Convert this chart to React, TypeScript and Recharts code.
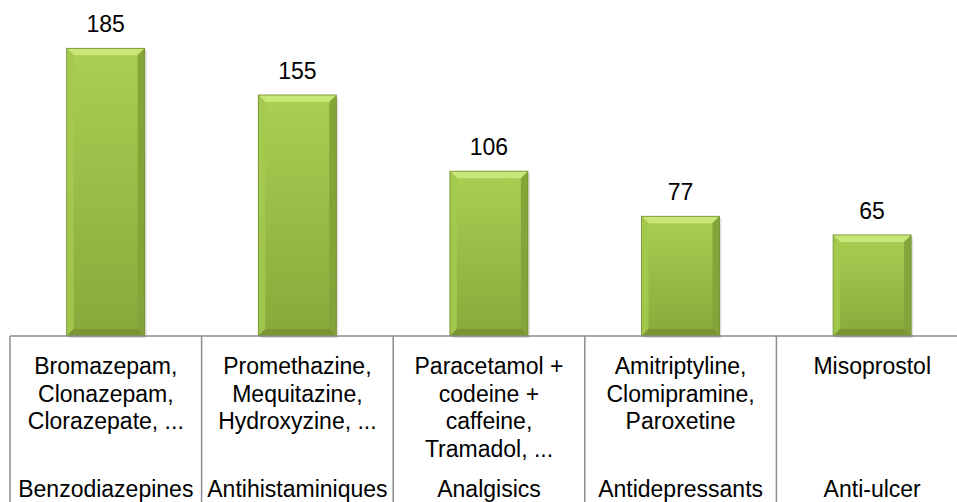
import React from 'react';
import { BarChart, Bar, XAxis, YAxis, LabelList } from 'recharts';

const classes = ['Benzodiazepines', 'Antihistaminiques', 'Analgisics', 'Antidepressants', 'Anti-ulcer'];
const drugs = [
  ['Bromazepam,', 'Clonazepam,', 'Clorazepate, ...'],
  ['Promethazine,', 'Mequitazine,', 'Hydroxyzine, ...'],
  ['Paracetamol +', 'codeine +', 'caffeine,', 'Tramadol, ...'],
  ['Amitriptyline,', 'Clomipramine,', 'Paroxetine'],
  ['Misoprostol'],
];
const counts = [185, 155, 106, 77, 65];

const data = classes.map((c, i) => ({ name: c, value: counts[i] }));

const FONT = '"Liberation Sans", Arial, sans-serif';

function BevelBar(props: any) {
  const { x, y, width: w, height: h } = props;
  if (!h || h <= 0) return null;
  const b = 7;
  return (
    <g>
      <rect x={x + 2} y={y + 2} width={w} height={h} fill="#000" opacity={0.12} />
      <rect x={x} y={y} width={w} height={h} fill="url(#barGrad)" />
      <polygon points={`${x},${y} ${x + w},${y} ${x + w - b},${y + b} ${x + b},${y + b}`} fill="#c9e779" />
      <polygon points={`${x},${y} ${x + b},${y + b} ${x + b},${y + h - b} ${x},${y + h}`} fill="#a3c94e" opacity={0.9} />
      <polygon points={`${x + w},${y} ${x + w - b},${y + b} ${x + w - b},${y + h - b} ${x + w},${y + h}`} fill="#84a338" />
      <polygon points={`${x},${y + h} ${x + b},${y + h - b} ${x + w - b},${y + h - b} ${x + w},${y + h}`} fill="#789632" />
      <rect x={x} y={y} width={w} height={h} fill="none" stroke="#6f8c2c" strokeWidth={0.8} />
    </g>
  );
}

function CategoryTick(props: any) {
  const { x, y, payload, width } = props;
  const idx = payload.index ?? classes.indexOf(payload.value);
  const half = payload.offset || width / (2 * classes.length);
  const lines = drugs[idx] || [];
  return (
    <g>
      <line x1={x - half} y1={y} x2={x - half} y2={y + 170} stroke="#8c8c8c" strokeWidth={1.5} />
      {lines.map((t, i) => (
        <text key={i} x={x} y={y + 30 + i * 27.5} textAnchor="middle" dominantBaseline="central"
          fontFamily={FONT} fontSize={23} fill="#000">{t}</text>
      ))}
      <text x={x} y={y + 153} textAnchor="middle" dominantBaseline="central"
        fontFamily={FONT} fontSize={23} fill="#000">{payload.value}</text>
    </g>
  );
}

function ValueLabel(props: any) {
  const { x, y, width, value } = props;
  return (
    <text x={x + width / 2} y={y - 24} textAnchor="middle" dominantBaseline="central"
      fontFamily={FONT} fontSize={23} fill="#000">{value}</text>
  );
}

export default function App() {
  return (
    <div style={{ position: 'fixed', left: 0, top: 0, width: 957, height: 502, overflow: 'hidden', background: '#fff' }}>
      <BarChart width={968} height={502} data={data} margin={{ top: 25, right: 0, left: 10, bottom: 0 }}
        barCategoryGap="29.6%">
        <defs>
          <linearGradient id="barGrad" x1="0" y1="0" x2="0" y2="1">
            <stop offset="0%" stopColor="#a9cf53" />
            <stop offset="100%" stopColor="#87a93a" />
          </linearGradient>
        </defs>
        <XAxis dataKey="name" height={166} interval={0} tickSize={0} tickMargin={0} tickLine={false}
          axisLine={{ stroke: '#8c8c8c', strokeWidth: 1.5 }} tick={<CategoryTick />} />
        <YAxis hide domain={[0, 200]} />
        <Bar dataKey="value" isAnimationActive={false} shape={<BevelBar />}>
          <LabelList dataKey="value" content={<ValueLabel />} />
        </Bar>
      </BarChart>
    </div>
  );
}
